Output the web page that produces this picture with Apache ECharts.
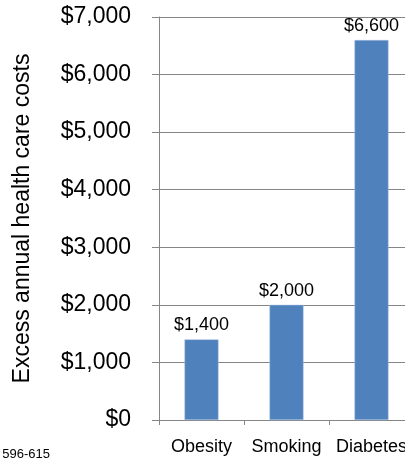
<!DOCTYPE html>
<html>
<head>
<meta charset="utf-8">
<script src="https://cdn.jsdelivr.net/npm/echarts@6/dist/echarts.min.js"></script>
<style>
html,body{margin:0;padding:0;background:#fff;}
#c{width:405px;height:460px;}
</style>
</head>
<body>
<div id="c"></div>
<script>
var categories = ['Obesity', 'Smoking', 'Diabetes'];
var costs = [1400, 2000, 6600];
var yTicks = [0, 1000, 2000, 3000, 4000, 5000, 6000, 7000];
var yAxisTitle = 'Excess annual health care costs';
var footnote = '596-615';

var FONT = 'Liberation Sans, Arial, sans-serif';
function money(v) {
  return '$' + Number(v).toLocaleString('en-US');
}

var chart = echarts.init(document.getElementById('c'), null, {renderer: 'canvas'});
chart.setOption({
  animation: false,
  backgroundColor: '#ffffff',
  textStyle: {fontFamily: FONT},
  grid: {left: 159, top: 17, width: 255, height: 403, containLabel: false, outerBoundsMode: 'none'},
  xAxis: {
    type: 'category',
    data: categories,
    axisLine: {show: true, lineStyle: {color: '#868686', width: 1}},
    axisTick: {show: true, length: 5, interval: 0, lineStyle: {color: '#868686'}},
    axisLabel: {color: '#000', fontSize: 18, margin: 18, interval: 0, fontFamily: FONT, hideOverlap: false}
  },
  yAxis: {
    type: 'value',
    min: yTicks[0],
    max: yTicks[yTicks.length - 1],
    interval: 1000,
    name: yAxisTitle,
    nameLocation: 'middle',
    nameGap: 125,
    nameTextStyle: {color: '#000', fontSize: 23, fontFamily: FONT},
    axisLine: {show: true, lineStyle: {color: '#868686', width: 1}},
    axisTick: {show: true, length: 7, lineStyle: {color: '#868686'}},
    splitLine: {show: true, lineStyle: {color: '#868686', width: 1}},
    axisLabel: {color: '#000', fontSize: 23, margin: 28, formatter: money, fontFamily: FONT}
  },
  series: [{
    type: 'bar',
    data: costs,
    barWidth: '40%',
    itemStyle: {color: '#4F81BD', borderColor: '#A9C1E0', borderWidth: 0.5},
    label: {show: true, position: 'top', distance: 5, color: '#000', fontSize: 18, formatter: function(p){return money(p.value);}, fontFamily: FONT}
  }],
  graphic: [{
    type: 'text',
    style: {text: footnote, x: 50, y: 454, textAlign: 'right', textVerticalAlign: 'middle', fill: '#000', font: '13px Liberation Sans, Arial, sans-serif'}
  }]
});
</script>
</body>
</html>
